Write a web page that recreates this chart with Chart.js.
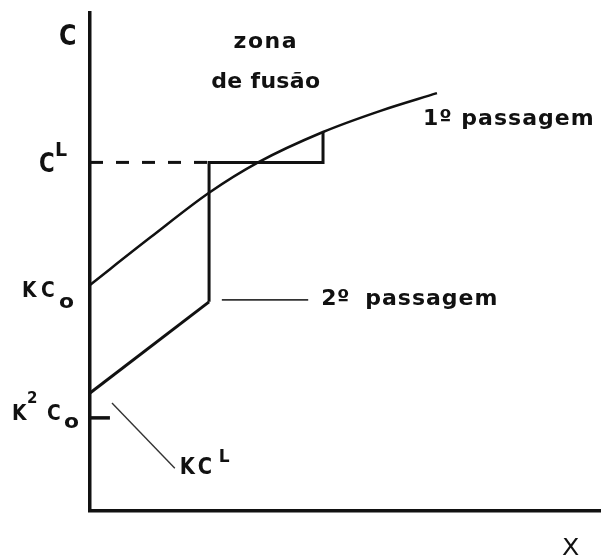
<!DOCTYPE html>
<html>
<head>
<meta charset="utf-8">
<script src="https://cdn.jsdelivr.net/npm/chart.js@4/dist/chart.umd.min.js"></script>
<style>
  html, body { margin: 0; padding: 0; background: #fff; }
  canvas { display: block; }
</style>
</head>
<body>
<canvas id="zoneChart" width="601" height="560"></canvas>
<script>
// concentration levels on the C axis
const levelCL = 7.0;
const levelKC0 = 4.54;
const levelK2C0 = 1.87;

// 1st pass profile
const pass1X = [0, 1.19, 2.33, 3.29, 4.56, 5.67, 6.79];
const pass1Y = [levelKC0, 5.50, 6.39, 7.0, 7.61, 8.03, 8.39];

// 2nd pass profile
const pass2X = [0, 2.33];
const pass2Y = [2.37, 4.20];

// molten zone limits along x
const zoneX = [2.33, 4.56];

// pointer lines for the labels
const pointer2X = [2.58, 4.27];
const pointer2Y = [4.24, 4.24];
const pointerKCLX = [0.43, 1.66];
const pointerKCLY = [2.17, 0.86];
const tickK2C0X = [0, 0.39];

function pts(xs, ys) {
    return xs.map(function (x, i) { return { x: x, y: ys[i] }; });
}

const FONT = "'DejaVu Sans', 'Liberation Sans', sans-serif";

// text drawn on top: anchor in data units, offsets in px
const notes = [
    { at: [0, 10], parts: [{ t: 'C', dx: -31, dy: 32, size: 28, sx: 0.85 }] },
    { at: [0, levelCL], parts: [
        { t: 'C', dx: -51, dy: 10, size: 26, sx: 0.82 },
        { t: 'L', dx: -35, dy: -6, size: 19 }] },
    { at: [0, levelKC0], parts: [
        { t: 'K', dx: -68, dy: 12, size: 22, sx: 0.85 },
        { t: 'C', dx: -49, dy: 12, size: 22, sx: 0.85 },
        { t: 'o', dx: -31, dy: 23, size: 19, sx: 1.15 }] },
    { at: [0, levelK2C0], parts: [
        { t: 'K', dx: -78, dy: 2, size: 22, sx: 0.85 },
        { t: '2', dx: -63, dy: -15, size: 15 },
        { t: 'C', dx: -43, dy: 2, size: 22, sx: 0.85 },
        { t: 'o', dx: -26, dy: 10, size: 19, sx: 1.15 }] },
    { at: [pointerKCLX[1], pointerKCLY[1]], parts: [
        { t: 'K', dx: 5, dy: 6, size: 23, sx: 0.85 },
        { t: 'C', dx: 23, dy: 6, size: 23, sx: 0.85 },
        { t: 'L', dx: 44, dy: -6, size: 17 }] },
    { at: [pointer2X[1], pointer2Y[1]], parts: [
        { t: '2º', dx: 13, dy: 5, size: 22, ls: 0.5 },
        { t: 'passagem', dx: 57, dy: 5, size: 22, ls: 1 }] },
    { at: [pass1X[pass1X.length - 1], pass1Y[pass1Y.length - 1]], parts: [
        { t: '1º passagem', dx: -14, dy: 32, size: 22, ls: 1 }] },
    { at: [3.44, 9.3], parts: [
        { t: 'zona', dx: 0, dy: 0, size: 22, ls: 1.5, align: 'center' },
        { t: 'de fusão', dx: 0, dy: 40, size: 22, ls: 0.3, align: 'center' }] },
    { at: [10, 0], parts: [{ t: 'X', dx: -39, dy: 44, size: 23, sx: 1.1, weight: 'normal' }] }
];

const notesPlugin = {
    id: 'notes',
    afterDraw(chart) {
        const ctx = chart.ctx;
        const sx = chart.scales.x, sy = chart.scales.y;
        notes.forEach(function (n) {
            const px = sx.getPixelForValue(n.at[0]);
            const py = sy.getPixelForValue(n.at[1]);
            n.parts.forEach(function (p) {
                ctx.save();
                ctx.fillStyle = '#111';
                ctx.textBaseline = 'alphabetic';
                ctx.font = (p.weight || 'bold') + ' ' + p.size + 'px ' + FONT;
                ctx.letterSpacing = (p.ls || 0) + 'px';
                ctx.textAlign = p.align || 'left';
                ctx.translate(px + p.dx, py + p.dy);
                ctx.scale(p.sx || 1, 1);
                ctx.fillText(p.t, 0, 0);
                ctx.restore();
            });
        });
    }
};

function line(data, extra) {
    return Object.assign({
        data: data,
        showLine: true,
        pointRadius: 0,
        borderColor: '#111',
        borderWidth: 3,
        fill: false,
        clip: false
    }, extra || {});
}

new Chart(document.getElementById('zoneChart'), {
    type: 'scatter',
    data: {
        datasets: [
            line(pts(pass1X, pass1Y), { borderWidth: 2.5, cubicInterpolationMode: 'monotone' }),
            line(pts(pass2X, pass2Y)),
            line(pts([0, zoneX[0]], [levelCL, levelCL]), { borderDash: [13, 13], borderWidth: 3 }),
            line(pts([zoneX[0], zoneX[0], zoneX[1], zoneX[1]],
                     [pass2Y[1], levelCL, levelCL, pass1Y[4]])),
            line(pts(tickK2C0X, [levelK2C0, levelK2C0]), { borderWidth: 3.5 }),
            line(pts(pointer2X, pointer2Y), { borderWidth: 1.6, borderColor: '#333' }),
            line(pts(pointerKCLX, pointerKCLY), { borderWidth: 1.4, borderColor: '#333' })
        ]
    },
    options: {
        responsive: false,
        animation: false,
        layout: { padding: { top: 13, left: 0, right: 0, bottom: 0 } },
        plugins: { legend: { display: false }, tooltip: { enabled: false } },
        scales: {
            x: {
                type: 'linear', min: 0, max: 10,
                grid: { display: false },
                ticks: { display: false },
                border: { display: true, color: '#111', width: 3.5 },
                afterFit: function (scale) { scale.height = 49; }
            },
            y: {
                type: 'linear', min: 0, max: 10,
                grid: { display: false },
                ticks: { display: false },
                border: { display: true, color: '#111', width: 3.5 },
                afterFit: function (scale) { scale.width = 90; }
            }
        }
    },
    plugins: [notesPlugin]
});
</script>
</body>
</html>
